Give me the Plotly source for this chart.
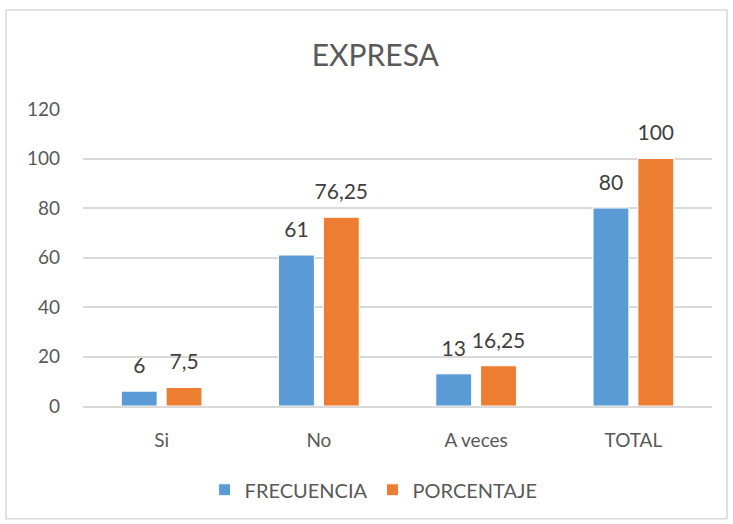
import plotly.graph_objects as go

categorias = ['Si', 'No', 'A veces', 'TOTAL']
frecuencia = [6, 61, 13, 80]
porcentaje = [7.5, 76.25, 16.25, 100]

def etiqueta(v):
    # decimal comma like the original
    return f'{v:g}'.replace('.', ',')

fig = go.Figure()
series = [('FRECUENCIA', frecuencia, '#5B9BD5'), ('PORCENTAJE', porcentaje, '#ED7D31')]
for nombre, valores, color in series:
    fig.add_trace(go.Bar(x=categorias, y=valores, name=nombre, offsetgroup=nombre,
                         marker=dict(color=color, line=dict(color='white', width=1))))
for nombre, valores, color in series:
    # value labels, floated a little above the bar tops
    fig.add_trace(go.Scatter(x=categorias, y=valores, mode='markers+text', offsetgroup=nombre,
                             text=[etiqueta(v) for v in valores], textposition='top center',
                             marker=dict(size=19, opacity=0), cliponaxis=False,
                             textfont=dict(size=21, color='#404040'),
                             showlegend=False, hoverinfo='skip'))

fig.update_layout(
    width=733, height=524,
    margin=dict(l=83, r=21, t=109, b=118),
    paper_bgcolor='white', plot_bgcolor='white',
    font=dict(family='Lato, Open Sans, sans-serif', color='#595959', size=19),
    title=dict(text='EXPRESA', x=0.512, xanchor='center', y=0.895, yanchor='middle',
               font=dict(size=30, color='#595959')),
    barmode='group', bargap=0.43, bargroupgap=0.2,
    scattermode='group', scattergap=0.43,
    legend=dict(orientation='h', x=0.462, xanchor='center', y=-0.282, yanchor='middle',
                font=dict(size=20, color='#595959'), itemwidth=30),
    shapes=[dict(type='rect', xref='paper', yref='paper',
                 x0=-0.1224, x1=1.0238, y0=-0.38, y1=1.333,
                 line=dict(color='#D9D9D9', width=1.5))],
)
fig.update_yaxes(range=[0, 120], dtick=20, showgrid=True, gridcolor='#D9D9D9', gridwidth=1.5,
                 zeroline=False, showline=False, ticks='', ticklabelstandoff=22)
fig.update_xaxes(showline=True, linecolor='#D9D9D9', linewidth=1.5, ticks='',
                 ticklabelstandoff=16)

# drop the default page margin so the figure sits at the window origin
fig.write_html("out.html", config={'displayModeBar': False},
               post_script="document.body.style.margin='0';")
